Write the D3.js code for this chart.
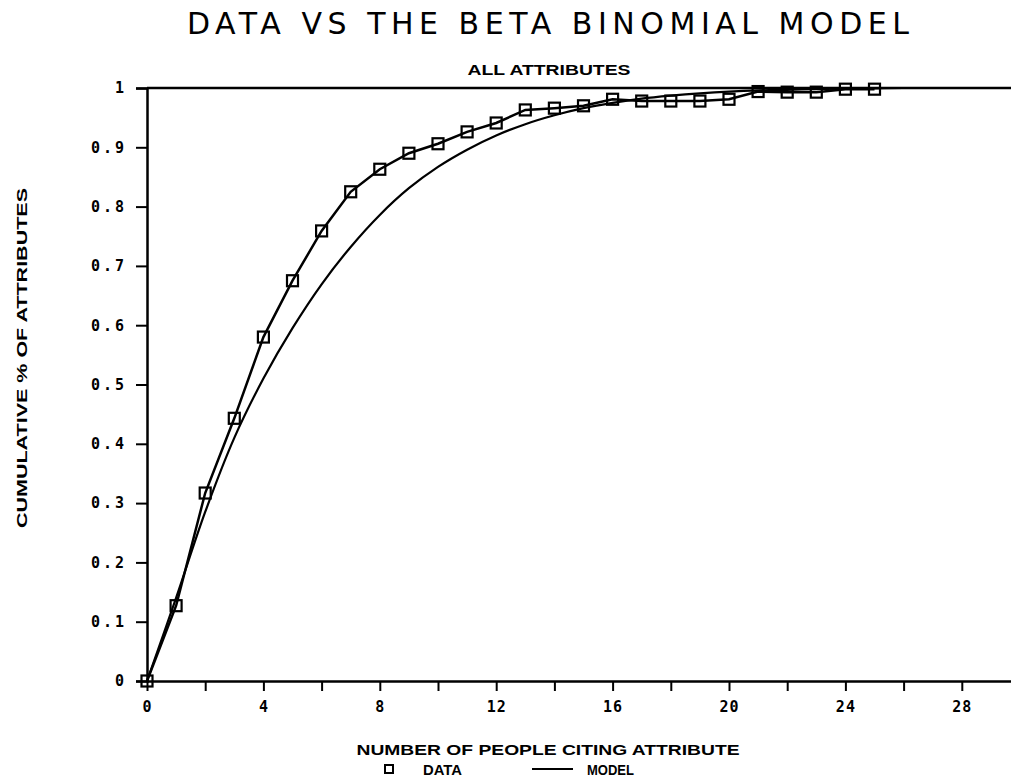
<!DOCTYPE html>
<html>
<head>
<meta charset="utf-8">
<script src="https://cdn.jsdelivr.net/npm/d3@7"></script>
<style>
  body { margin: 0; background: #fff; }
  svg { display: block; }
  .tick-lbl { font-family: "DejaVu Sans Mono", monospace; font-weight: bold; font-size: 15px; }
</style>
</head>
<body>
<svg width="1011" height="782"></svg>
<script>
// number of people citing (x) and cumulative share of attributes (y)
var people = [0,1,2,3,4,5,6,7,8,9,10,11,12,13,14,15,16,17,18,19,20,21,22,23,24,25];
var dataValues = [0, 0.127, 0.317, 0.443, 0.580, 0.675, 0.759, 0.825, 0.863, 0.890, 0.906,
    0.926, 0.941, 0.963, 0.966, 0.970, 0.981, 0.978, 0.978, 0.978, 0.981, 0.994, 0.993,
    0.993, 0.998, 0.998];
var modelX = [0,1,2,3,4,5,6,7,8,9,10,11,12,13,14,15,16,17,18,19,20,21,22,23,24,25,26,27,28,29,30];
var modelValues = [0, 0.140, 0.285, 0.410, 0.510, 0.595, 0.669, 0.732, 0.786, 0.831, 0.867,
    0.896, 0.920, 0.939, 0.954, 0.966, 0.975, 0.982, 0.987, 0.991, 0.994, 0.996, 0.997,
    0.998, 0.999, 0.9995, 1, 1, 1, 1, 1];
var xTicks = [0,2,4,6,8,10,12,14,16,18,20,22,24,26,28,30];
var xLabels = [0,4,8,12,16,20,24,28];
var yTicks = [0,0.1,0.2,0.3,0.4,0.5,0.6,0.7,0.8,0.9,1];

function fmtY(v) {
    if (v == 0) return "0";
    if (v == 1) return "1";
    return d3.format(".1f")(v);
}

function renderMyChart() {
    var svg = d3.select("svg");

    var x = d3.scaleLinear().domain([0, 30]).range([147, 147 + 30 * 29.1]),
        y = d3.scaleLinear().domain([0, 1]).range([681, 88]);

    // titles
    svg.append("text")
        .attr("x", 548).attr("y", 34)
        .attr("text-anchor", "middle")
        .attr("textLength", 722).attr("lengthAdjust", "spacing")
        .style("font-family", "DejaVu Sans").style("font-size", "30px")
        .text("DATA VS THE BETA BINOMIAL MODEL");

    svg.append("text")
        .attr("x", 549).attr("y", 75)
        .attr("text-anchor", "middle")
        .attr("textLength", 163).attr("lengthAdjust", "spacingAndGlyphs")
        .style("font-family", "Liberation Sans").style("font-weight", "bold").style("font-size", "15px")
        .text("ALL ATTRIBUTES");

    // top frame line
    svg.append("line")
        .attr("x1", x(0)).attr("x2", 1011)
        .attr("y1", y(1)).attr("y2", y(1))
        .attr("stroke", "#000").attr("stroke-width", 2.5);

    // y axis
    var yAxis = svg.append("g")
        .attr("transform", "translate(" + x(0) + ",0)")
        .call(d3.axisLeft(y).tickValues(yTicks).tickSize(11).tickPadding(9).tickFormat(fmtY));
    yAxis.select(".domain").attr("stroke-width", 2.5);
    yAxis.selectAll(".tick line").attr("stroke-width", 2);
    yAxis.selectAll(".tick text")
        .attr("class", "tick-lbl")
        .style("letter-spacing", "3px")
        .attr("fill", "#000");

    // x axis
    var xAxis = svg.append("g")
        .attr("transform", "translate(0," + y(0) + ")")
        .call(d3.axisBottom(x).tickValues(xTicks).tickSize(10).tickSizeOuter(0).tickPadding(10)
            .tickFormat(function (d) { return xLabels.indexOf(d) >= 0 ? d : ""; }));
    xAxis.select(".domain").attr("stroke-width", 2.5);
    xAxis.selectAll(".tick line").attr("stroke-width", 2);
    xAxis.selectAll(".tick text")
        .attr("class", "tick-lbl")
        .style("letter-spacing", "1px")
        .attr("fill", "#000");

    // axis titles
    svg.append("text")
        .attr("transform", "translate(27,358) rotate(-90)")
        .attr("text-anchor", "middle")
        .attr("textLength", 340).attr("lengthAdjust", "spacingAndGlyphs")
        .style("font-family", "Liberation Sans").style("font-weight", "bold").style("font-size", "15px")
        .text("CUMULATIVE % OF ATTRIBUTES");

    svg.append("text")
        .attr("x", 548).attr("y", 755)
        .attr("text-anchor", "middle")
        .attr("textLength", 383).attr("lengthAdjust", "spacingAndGlyphs")
        .style("font-family", "Liberation Sans").style("font-weight", "bold").style("font-size", "15px")
        .text("NUMBER OF PEOPLE CITING ATTRIBUTE");

    // model curve
    var modelLine = d3.line()
        .x(function (d, i) { return x(modelX[i]); })
        .y(function (d) { return y(d); })
        .curve(d3.curveCatmullRom);
    svg.append("path")
        .datum(modelValues)
        .attr("fill", "none").attr("stroke", "#000").attr("stroke-width", 2.2)
        .attr("d", modelLine);

    // data line + squares
    var dataLine = d3.line()
        .x(function (d, i) { return x(people[i]); })
        .y(function (d) { return y(d); });
    svg.append("path")
        .datum(dataValues)
        .attr("fill", "none").attr("stroke", "#000").attr("stroke-width", 2.5)
        .attr("d", dataLine);

    svg.selectAll(".pt")
        .data(dataValues)
        .enter().append("rect")
        .attr("class", "pt")
        .attr("x", function (d, i) { return x(people[i]) - 5.5; })
        .attr("y", function (d) { return y(d) - 5.5; })
        .attr("width", 11).attr("height", 11)
        .attr("fill", "none").attr("stroke", "#000").attr("stroke-width", 2.2);

    // legend
    var lg = svg.append("g").attr("transform", "translate(0,769)");
    lg.append("rect")
        .attr("x", 385).attr("y", -4).attr("width", 8).attr("height", 8)
        .attr("fill", "none").attr("stroke", "#000").attr("stroke-width", 2);
    lg.append("text")
        .attr("x", 423).attr("y", 5.5)
        .attr("textLength", 39).attr("lengthAdjust", "spacingAndGlyphs")
        .style("font-family", "Liberation Sans").style("font-weight", "bold").style("font-size", "14px")
        .text("DATA");
    lg.append("line")
        .attr("x1", 532).attr("x2", 573).attr("y1", 0).attr("y2", 0)
        .attr("stroke", "#000").attr("stroke-width", 2);
    lg.append("text")
        .attr("x", 587).attr("y", 5.5)
        .attr("textLength", 47).attr("lengthAdjust", "spacingAndGlyphs")
        .style("font-family", "Liberation Sans").style("font-weight", "bold").style("font-size", "14px")
        .text("MODEL");
}

renderMyChart();
</script>
</body>
</html>
